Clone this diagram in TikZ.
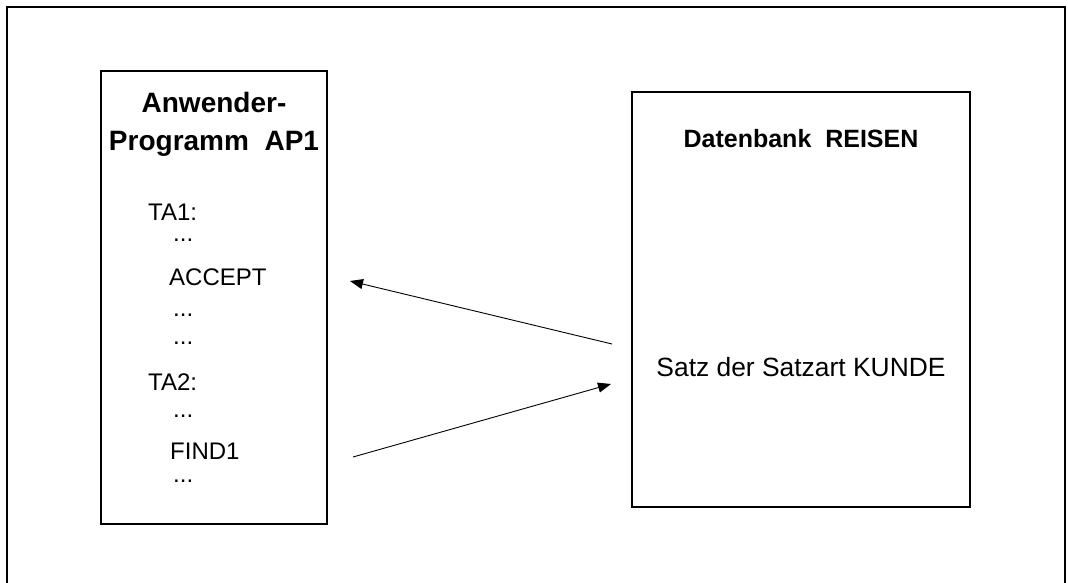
\documentclass[tikz,border=0pt]{standalone}
\usepackage{fontspec}
\setmainfont{Liberation Sans}
\usetikzlibrary{arrows.meta}

\begin{document}
\begin{tikzpicture}[x=1pt, y=-1pt,
    box/.style={draw, line width=1.5pt, inner sep=0pt},
    head/.style={font=\fontsize{28}{34}\selectfont\bfseries, inner sep=0pt, anchor=base},
    code/.style={font=\fontsize{24}{29}\selectfont, inner sep=0pt, anchor=base west},
    flow/.style={-{Triangle[length=13pt,width=10pt]}, line width=0.9pt}]
    \useasboundingbox (0,0) rectangle (1068,583);
    % outer frame, open at the bottom
    \draw[line width=1.5pt] (7,583) -- (7,7) -- (1065,7) -- (1065,583);
    % program
    \node[box, minimum width=226pt, minimum height=453pt] (ap) at (214,297.5) {};
    \node[head] (apname1) at (214,113) {Anwender-};
    \node[head] (apname2) at (214,150) {Programm\ \ AP1};
    \node[code] (ta1) at (148,220) {TA1:};
    \node[code] (dots1) at (173,241) {...};
    \node[code] (accept) at (169,285) {ACCEPT};
    \node[code] (dots2) at (173,316) {...};
    \node[code] (dots3) at (173,344) {...};
    \node[code] (ta2) at (148,390) {TA2:};
    \node[code] (dots4) at (173,417) {...};
    \node[code] (find) at (170,459) {FIND1};
    \node[code] (dots5) at (173,482) {...};
    % database
    \node[box, minimum width=338pt, minimum height=415pt] (db) at (801,299.5) {};
    \node[head, font=\fontsize{25}{30}\selectfont\bfseries] (dbname) at (801,148) {Datenbank\ \ REISEN};
    \node[inner sep=0pt, anchor=base, font=\fontsize{26.4}{32}\selectfont] (satz) at (801,376) {Satz der Satzart KUNDE};
    \coordinate (getOut) at (612,344);
    \coordinate (getIn) at (350,281);
    \coordinate (findOut) at (353,457);
    \coordinate (findIn) at (611,384);
    \draw[flow] (getOut) -- (getIn);
    \draw[flow] (findOut) -- (findIn);
\end{tikzpicture}
\end{document}
